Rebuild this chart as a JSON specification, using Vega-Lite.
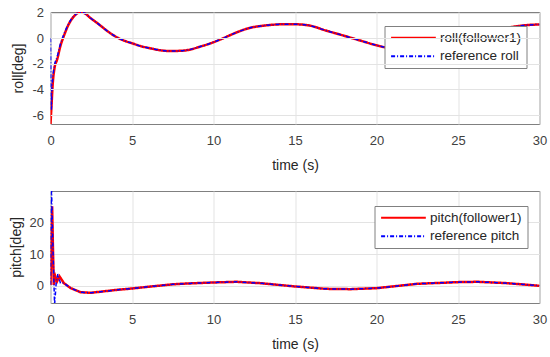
{
  "$schema": "https://vega.github.io/schema/vega-lite/v6.json",
  "padding": {"left": 8.5, "top": 6, "right": 11, "bottom": 5},
  "spacing": 17,
  "background": "white",
  "config": {
    "font": "Liberation Sans",
    "view": {"stroke": "#808080", "strokeWidth": 1},
    "axis": {
      "labelFont": "Liberation Sans", "titleFont": "Liberation Sans",
      "labelFontSize": 13, "titleFontSize": 14, "titleFontWeight": "normal",
      "labelColor": "#404040", "titleColor": "#262626",
      "gridColor": "#e3e3e3", "gridWidth": 1, "domain": false, "ticks": false,
      "labelFlush": false, "labelOverlap": false, "labelBound": false
    },
    "axisX": {"labelPadding": 10, "titlePadding": 11},
    "axisY": {"labelPadding": 7, "titlePadding": 6},
    "legend": {
      "labelFont": "Liberation Sans", "labelFontSize": 13.5, "labelColor": "#262626",
      "strokeColor": "#808080", "fillColor": "white", "padding": 5,
      "symbolType": "M-1.2,0H9.2", "symbolSize": 74, "symbolStrokeWidth": 2,
      "labelOffset": 37, "rowPadding": 3.5, "orient": "none", "title": null
    }
  },
  "datasets": {
    "roll": [
      {"t": 0, "series": "roll(follower1)", "v": -6.7},
      {"t": 0.06, "series": "roll(follower1)", "v": -5.3},
      {"t": 0.14, "series": "roll(follower1)", "v": -3.5},
      {"t": 0.25, "series": "roll(follower1)", "v": -2.3},
      {"t": 0.41, "series": "roll(follower1)", "v": -1.65},
      {"t": 0.61, "series": "roll(follower1)", "v": -0.6},
      {"t": 0.82, "series": "roll(follower1)", "v": 0.18},
      {"t": 1.12, "series": "roll(follower1)", "v": 1.1},
      {"t": 1.43, "series": "roll(follower1)", "v": 1.7},
      {"t": 1.74, "series": "roll(follower1)", "v": 2.0},
      {"t": 1.9, "series": "roll(follower1)", "v": 2.03},
      {"t": 2.1, "series": "roll(follower1)", "v": 1.95},
      {"t": 2.45, "series": "roll(follower1)", "v": 1.58},
      {"t": 2.8, "series": "roll(follower1)", "v": 1.25},
      {"t": 3.1, "series": "roll(follower1)", "v": 0.95},
      {"t": 3.5, "series": "roll(follower1)", "v": 0.55},
      {"t": 3.9, "series": "roll(follower1)", "v": 0.2},
      {"t": 4.5, "series": "roll(follower1)", "v": -0.18},
      {"t": 5.0, "series": "roll(follower1)", "v": -0.39},
      {"t": 5.5, "series": "roll(follower1)", "v": -0.6},
      {"t": 6.1, "series": "roll(follower1)", "v": -0.78},
      {"t": 6.8, "series": "roll(follower1)", "v": -0.95},
      {"t": 7.4, "series": "roll(follower1)", "v": -1.0},
      {"t": 8.2, "series": "roll(follower1)", "v": -0.96},
      {"t": 9.2, "series": "roll(follower1)", "v": -0.65},
      {"t": 10.0, "series": "roll(follower1)", "v": -0.31},
      {"t": 10.6, "series": "roll(follower1)", "v": 0.0},
      {"t": 11.2, "series": "roll(follower1)", "v": 0.34},
      {"t": 12.2, "series": "roll(follower1)", "v": 0.8},
      {"t": 13.2, "series": "roll(follower1)", "v": 1.0},
      {"t": 14.3, "series": "roll(follower1)", "v": 1.09},
      {"t": 15.0, "series": "roll(follower1)", "v": 1.09},
      {"t": 15.9, "series": "roll(follower1)", "v": 0.99},
      {"t": 16.9, "series": "roll(follower1)", "v": 0.6},
      {"t": 18.0, "series": "roll(follower1)", "v": 0.2},
      {"t": 19.0, "series": "roll(follower1)", "v": -0.18},
      {"t": 20.0, "series": "roll(follower1)", "v": -0.55},
      {"t": 20.5, "series": "roll(follower1)", "v": -0.7},
      {"t": 21.5, "series": "roll(follower1)", "v": -0.9},
      {"t": 22.5, "series": "roll(follower1)", "v": -1.0},
      {"t": 23.5, "series": "roll(follower1)", "v": -0.9},
      {"t": 24.5, "series": "roll(follower1)", "v": -0.6},
      {"t": 25.5, "series": "roll(follower1)", "v": -0.2},
      {"t": 26.5, "series": "roll(follower1)", "v": 0.3},
      {"t": 27.5, "series": "roll(follower1)", "v": 0.7},
      {"t": 28.2, "series": "roll(follower1)", "v": 0.86},
      {"t": 29.0, "series": "roll(follower1)", "v": 1.0},
      {"t": 30.0, "series": "roll(follower1)", "v": 1.08},
      {"t": 0, "series": "reference roll", "v": 0},
      {"t": 0.02, "series": "reference roll", "v": -3.0},
      {"t": 0.05, "series": "reference roll", "v": -5.6},
      {"t": 0.08, "series": "reference roll", "v": -4.2},
      {"t": 0.14, "series": "reference roll", "v": -3.1},
      {"t": 0.25, "series": "reference roll", "v": -2.1},
      {"t": 0.41, "series": "reference roll", "v": -1.45},
      {"t": 0.61, "series": "reference roll", "v": -0.45},
      {"t": 0.82, "series": "reference roll", "v": 0.3},
      {"t": 1.12, "series": "reference roll", "v": 1.15},
      {"t": 1.43, "series": "reference roll", "v": 1.72},
      {"t": 1.74, "series": "reference roll", "v": 2.0},
      {"t": 1.9, "series": "reference roll", "v": 2.03},
      {"t": 2.1, "series": "reference roll", "v": 1.95},
      {"t": 2.45, "series": "reference roll", "v": 1.58},
      {"t": 2.8, "series": "reference roll", "v": 1.25},
      {"t": 3.1, "series": "reference roll", "v": 0.95},
      {"t": 3.5, "series": "reference roll", "v": 0.55},
      {"t": 3.9, "series": "reference roll", "v": 0.2},
      {"t": 4.5, "series": "reference roll", "v": -0.18},
      {"t": 5.0, "series": "reference roll", "v": -0.39},
      {"t": 5.5, "series": "reference roll", "v": -0.6},
      {"t": 6.1, "series": "reference roll", "v": -0.78},
      {"t": 6.8, "series": "reference roll", "v": -0.95},
      {"t": 7.4, "series": "reference roll", "v": -1.0},
      {"t": 8.2, "series": "reference roll", "v": -0.96},
      {"t": 9.2, "series": "reference roll", "v": -0.65},
      {"t": 10.0, "series": "reference roll", "v": -0.31},
      {"t": 10.6, "series": "reference roll", "v": 0.0},
      {"t": 11.2, "series": "reference roll", "v": 0.34},
      {"t": 12.2, "series": "reference roll", "v": 0.8},
      {"t": 13.2, "series": "reference roll", "v": 1.0},
      {"t": 14.3, "series": "reference roll", "v": 1.09},
      {"t": 15.0, "series": "reference roll", "v": 1.09},
      {"t": 15.9, "series": "reference roll", "v": 0.99},
      {"t": 16.9, "series": "reference roll", "v": 0.6},
      {"t": 18.0, "series": "reference roll", "v": 0.2},
      {"t": 19.0, "series": "reference roll", "v": -0.18},
      {"t": 20.0, "series": "reference roll", "v": -0.55},
      {"t": 20.5, "series": "reference roll", "v": -0.7},
      {"t": 21.5, "series": "reference roll", "v": -0.9},
      {"t": 22.5, "series": "reference roll", "v": -1.0},
      {"t": 23.5, "series": "reference roll", "v": -0.9},
      {"t": 24.5, "series": "reference roll", "v": -0.6},
      {"t": 25.5, "series": "reference roll", "v": -0.2},
      {"t": 26.5, "series": "reference roll", "v": 0.3},
      {"t": 27.5, "series": "reference roll", "v": 0.7},
      {"t": 28.2, "series": "reference roll", "v": 0.86},
      {"t": 29.0, "series": "reference roll", "v": 1.0},
      {"t": 30.0, "series": "reference roll", "v": 1.08}
    ],
    "pitch": [
      {"t": 0, "series": "pitch(follower1)", "v": 0.3},
      {"t": 0.05, "series": "pitch(follower1)", "v": 14},
      {"t": 0.1, "series": "pitch(follower1)", "v": 25},
      {"t": 0.15, "series": "pitch(follower1)", "v": 12},
      {"t": 0.2, "series": "pitch(follower1)", "v": 0.3},
      {"t": 0.3, "series": "pitch(follower1)", "v": 2.9},
      {"t": 0.4, "series": "pitch(follower1)", "v": 1.4},
      {"t": 0.55, "series": "pitch(follower1)", "v": 3.0},
      {"t": 0.82, "series": "pitch(follower1)", "v": 0.85},
      {"t": 1.23, "series": "pitch(follower1)", "v": -0.7},
      {"t": 1.84, "series": "pitch(follower1)", "v": -2.0},
      {"t": 2.45, "series": "pitch(follower1)", "v": -2.2},
      {"t": 3.07, "series": "pitch(follower1)", "v": -1.85},
      {"t": 4.1, "series": "pitch(follower1)", "v": -1.26},
      {"t": 5.0, "series": "pitch(follower1)", "v": -0.84},
      {"t": 6.1, "series": "pitch(follower1)", "v": -0.25},
      {"t": 7.55, "series": "pitch(follower1)", "v": 0.5},
      {"t": 8.5, "series": "pitch(follower1)", "v": 0.75},
      {"t": 10.0, "series": "pitch(follower1)", "v": 1.05},
      {"t": 11.4, "series": "pitch(follower1)", "v": 1.26},
      {"t": 12.86, "series": "pitch(follower1)", "v": 0.84},
      {"t": 15.0, "series": "pitch(follower1)", "v": -0.2},
      {"t": 16.9, "series": "pitch(follower1)", "v": -0.95},
      {"t": 18.4, "series": "pitch(follower1)", "v": -1.05},
      {"t": 20.0, "series": "pitch(follower1)", "v": -0.74},
      {"t": 22.5, "series": "pitch(follower1)", "v": 0.63},
      {"t": 25.0, "series": "pitch(follower1)", "v": 1.16},
      {"t": 26.2, "series": "pitch(follower1)", "v": 1.26},
      {"t": 28.0, "series": "pitch(follower1)", "v": 0.84},
      {"t": 30.0, "series": "pitch(follower1)", "v": 0.0},
      {"t": 0, "series": "reference pitch", "v": 0.3},
      {"t": 0.03, "series": "reference pitch", "v": 18},
      {"t": 0.06, "series": "reference pitch", "v": 31},
      {"t": 0.15, "series": "reference pitch", "v": 12},
      {"t": 0.25, "series": "reference pitch", "v": -6},
      {"t": 0.35, "series": "reference pitch", "v": 1.0},
      {"t": 0.45, "series": "reference pitch", "v": 3.7},
      {"t": 0.61, "series": "reference pitch", "v": 0.85},
      {"t": 0.82, "series": "reference pitch", "v": 0.85},
      {"t": 1.23, "series": "reference pitch", "v": -0.7},
      {"t": 1.84, "series": "reference pitch", "v": -2.0},
      {"t": 2.45, "series": "reference pitch", "v": -2.2},
      {"t": 3.07, "series": "reference pitch", "v": -1.85},
      {"t": 4.1, "series": "reference pitch", "v": -1.26},
      {"t": 5.0, "series": "reference pitch", "v": -0.84},
      {"t": 6.1, "series": "reference pitch", "v": -0.25},
      {"t": 7.55, "series": "reference pitch", "v": 0.5},
      {"t": 8.5, "series": "reference pitch", "v": 0.75},
      {"t": 10.0, "series": "reference pitch", "v": 1.05},
      {"t": 11.4, "series": "reference pitch", "v": 1.26},
      {"t": 12.86, "series": "reference pitch", "v": 0.84},
      {"t": 15.0, "series": "reference pitch", "v": -0.2},
      {"t": 16.9, "series": "reference pitch", "v": -0.95},
      {"t": 18.4, "series": "reference pitch", "v": -1.05},
      {"t": 20.0, "series": "reference pitch", "v": -0.74},
      {"t": 22.5, "series": "reference pitch", "v": 0.63},
      {"t": 25.0, "series": "reference pitch", "v": 1.16},
      {"t": 26.2, "series": "reference pitch", "v": 1.26},
      {"t": 28.0, "series": "reference pitch", "v": 0.84},
      {"t": 30.0, "series": "reference pitch", "v": 0.0}
    ]
  },
  "resolve": {"scale": {"color": "independent", "strokeDash": "independent", "x": "independent", "y": "independent"}, "legend": {"color": "independent", "strokeDash": "independent"}},
  "vconcat": [
    {
      "width": 489, "height": 112,
      "data": {"name": "roll"},
      "encoding": {
        "x": {"field": "t", "type": "quantitative", "scale": {"domain": [0, 30], "nice": false}, "axis": {"title": "time (s)", "values": [0, 5, 10, 15, 20, 25, 30], "labelOverlap": false}},
        "y": {"field": "v", "type": "quantitative", "scale": {"domain": [-6.7, 2.05], "nice": false, "zero": false}, "axis": {"title": "roll[deg]", "tickCount": 5, "labelOverlap": false, "zindex": 1, "labelExpr": "datum.value < 0 ? '-' + abs(datum.value) : '' + datum.value"}},
        "color": {"field": "series", "type": "nominal", "scale": {"domain": ["roll(follower1)", "reference roll"], "range": ["#ff0000", "#0000ff"]}, "legend": {"legendX": 334, "legendY": 14}},
        "strokeDash": {"field": "series", "type": "nominal", "scale": {"domain": ["roll(follower1)", "reference roll"], "range": [[1, 0], [4, 2, 1, 2]]}, "legend": {"legendX": 334, "legendY": 14}}
      },
      "layer": [
        {
          "transform": [{"filter": "datum.series === 'roll(follower1)'"}],
          "mark": {"type": "line", "strokeWidth": 2.5, "clip": true, "interpolate": "monotone"}
        },
        {
          "transform": [{"filter": "datum.series === 'reference roll'"}],
          "mark": {"type": "line", "strokeWidth": 1.5, "clip": true, "interpolate": "monotone"}
        }
      ]
    },
    {
      "width": 489, "height": 112,
      "data": {"name": "pitch"},
      "encoding": {
        "x": {"field": "t", "type": "quantitative", "scale": {"domain": [0, 30], "nice": false}, "axis": {"title": "time (s)", "values": [0, 5, 10, 15, 20, 25, 30], "labelOverlap": false}},
        "y": {"field": "v", "type": "quantitative", "scale": {"domain": [-5.4, 29.8], "nice": false, "zero": false}, "axis": {"title": "pitch[deg]", "values": [0, 10, 20], "labelOverlap": false}},
        "color": {"field": "series", "type": "nominal", "scale": {"domain": ["pitch(follower1)", "reference pitch"], "range": ["#ff0000", "#0000ff"]}, "legend": {"legendX": 324, "legendY": 15}},
        "strokeDash": {"field": "series", "type": "nominal", "scale": {"domain": ["pitch(follower1)", "reference pitch"], "range": [[1, 0], [4, 2, 1, 2]]}, "legend": {"legendX": 324, "legendY": 15}}
      },
      "layer": [
        {
          "transform": [{"filter": "datum.series === 'pitch(follower1)'"}],
          "mark": {"type": "line", "strokeWidth": 2.5, "clip": true}
        },
        {
          "transform": [{"filter": "datum.series === 'reference pitch'"}],
          "mark": {"type": "line", "strokeWidth": 1.5, "clip": true}
        }
      ]
    }
  ]
}
